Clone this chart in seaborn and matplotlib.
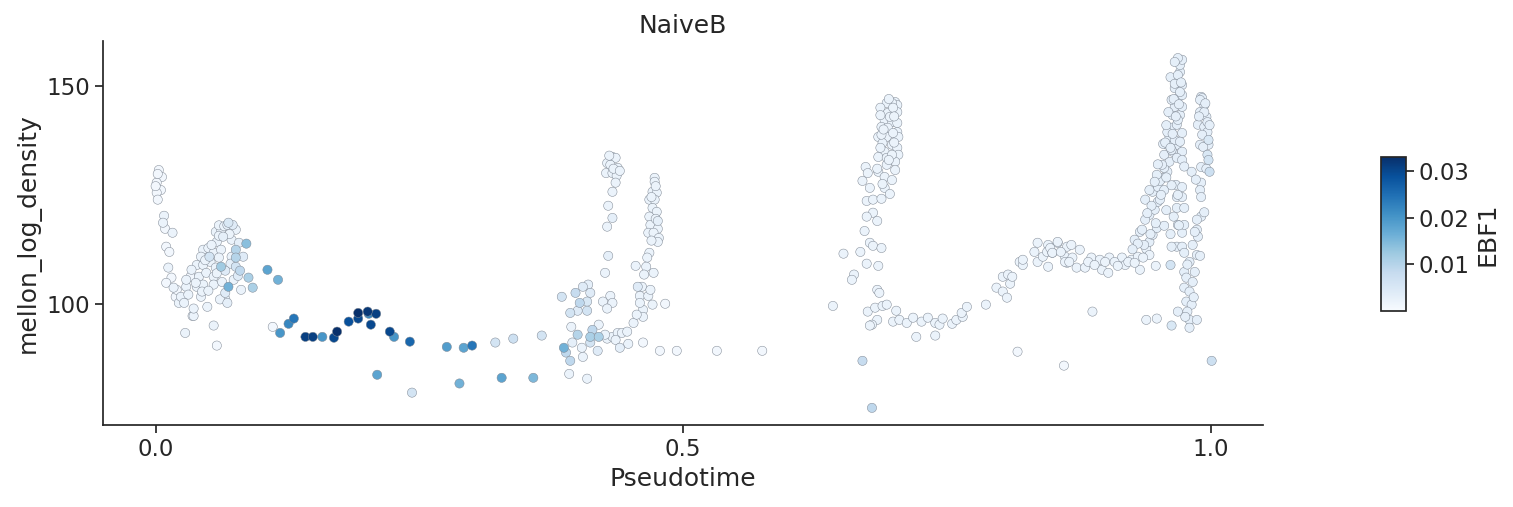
import numpy as np
import pandas as pd
import matplotlib
matplotlib.use("Agg")
import matplotlib.pyplot as plt
import seaborn as sns

# ---- data ----
# segment A: start of pseudotime
xa = [0.003,0.006,0.001,0.005,0.001,0.002,0.002,0.000,0.008,0.007,0.009,0.016,0.010,0.013,0.012,0.015,0.010,0.017,0.019,0.022,0.028,0.036,0.055,0.058,0.049]
ya = [130.7,129.1,127.8,126.1,125.5,123.9,129.8,127.0,120.2,118.6,117.2,116.3,113.1,111.9,108.3,106.0,104.8,103.7,101.6,100.2,93.3,97.2,95.0,90.4,99.3]
ca = [0.001,0.001,0.001,0.001,0.001,0.001,0.001,0.001,0.002,0.002,0.001,0.002,0.001,0.001,0.002,0.001,0.001,0.002,0.001,0.002,0.002,0.002,0.002,0.001,0.002]

# segment B: first bump
xb = [0.057,0.062,0.069,0.076,0.064,0.058,0.072,0.079,0.086,0.045,0.050,0.055,0.062,0.072,0.083,0.076,0.076,0.051,0.060,0.043,
      0.039,0.045,0.034,0.062,0.066,0.076,0.080,0.033,0.041,0.048,0.055,0.074,0.088,0.029,0.039,0.045,0.055,0.069,0.081,0.092,
      0.020,0.024,0.031,0.043,0.044,0.066,0.066,0.068,0.027,0.036,0.035,0.106,0.116,0.052,0.057,0.071,0.029,0.063,0.078,0.068,
      0.073,0.060]
yb = [116.5,117.0,118.6,117.0,115.4,114.2,114.7,114.0,113.8,112.4,112.8,111.7,112.4,110.8,110.8,112.4,110.6,110.8,110.6,110.8,
      108.9,108.9,107.8,108.5,107.6,108.5,107.6,106.2,106.2,107.1,106.2,105.5,106.0,103.9,103.9,104.4,104.4,103.9,103.2,103.7,
      103.2,101.6,102.1,101.6,102.8,102.5,101.1,100.2,100.2,98.9,97.2,107.8,105.5,109.6,108.3,109.2,105.5,105.0,106.4,118.1,
      118.1,115.6]
cb = [0.002,0.002,0.005,0.002,0.003,0.002,0.002,0.003,0.014,0.002,0.002,0.002,0.002,0.002,0.004,0.010,0.010,0.006,0.002,0.002,
      0.002,0.002,0.002,0.012,0.004,0.006,0.009,0.001,0.002,0.002,0.002,0.002,0.011,0.002,0.002,0.002,0.002,0.016,0.002,0.011,
      0.001,0.002,0.002,0.002,0.002,0.004,0.002,0.003,0.002,0.002,0.001,0.018,0.016,0.002,0.002,0.003,0.002,0.002,0.004,0.003,
      0.004,0.002]

# segment C: low trough with high EBF1
xc = [0.111,0.118,0.126,0.131,0.142,0.149,0.158,0.169,0.172,0.183,0.192,0.192,0.201,0.202,0.209,0.204,0.222,0.226,0.241,0.210,
      0.243,0.276,0.292,0.300,0.288,0.322,0.339,0.328,0.358,0.366]
yc = [94.7,93.3,95.4,96.6,92.4,92.4,92.4,92.2,93.6,95.9,97.9,96.6,98.2,97.7,97.7,95.2,93.6,92.4,91.3,83.7,
      79.6,90.1,89.9,90.4,81.7,91.1,92.0,83.0,83.0,92.7]
cc = [0.001,0.020,0.022,0.024,0.031,0.031,0.020,0.030,0.033,0.029,0.033,0.030,0.032,0.022,0.031,0.030,0.030,0.020,0.026,0.018,
      0.006,0.019,0.018,0.024,0.016,0.006,0.007,0.018,0.015,0.006]

# segment D: middle cluster with two spikes
xd = [0.385,0.398,0.405,0.410,0.412,0.402,0.409,0.393,0.400,0.409,0.424,0.431,0.433,0.428,0.394,0.400,0.414,0.420,0.412,0.420,
      0.412,0.419,0.387,0.395,0.404,0.405,0.389,0.393,0.392,0.409,0.428,0.433,0.438,0.442,0.447,0.453,0.440,0.448,0.462,0.478,
      0.494,0.532,0.575,0.426,0.436,
      0.433,0.436,0.428,0.431,0.438,0.427,0.433,0.437,0.436,0.433,0.429,0.433,0.428,0.429,0.426,
      0.473,0.473,0.471,0.475,0.468,0.473,0.471,0.475,0.468,0.476,0.469,0.476,0.467,0.472,0.477,0.476,0.468,0.466,0.455,0.465,
      0.463,0.472,0.483,0.457,0.461,0.459,0.467,0.471,0.462,0.459,0.462,0.456,0.469]
yd = [101.6,102.5,103.9,104.4,102.5,100.2,100.5,97.9,98.4,98.4,100.5,101.8,100.2,98.9,94.7,92.9,94.0,95.2,92.4,92.4,
      91.1,89.2,89.9,91.1,89.9,87.8,88.8,86.9,83.9,82.8,92.0,92.4,93.3,93.3,93.6,95.6,89.9,90.8,91.1,89.2,
      89.2,89.2,89.2,92.9,91.7,
      133.7,133.5,132.3,131.9,131.2,130.0,130.0,129.4,127.8,125.7,122.5,119.7,117.7,111.0,107.1,
      128.9,128.0,125.7,125.5,123.9,123.9,122.0,121.1,120.0,119.0,118.1,117.2,116.3,116.3,115.1,114.2,111.7,110.6,108.7,108.5,
      106.7,107.1,100.0,103.9,103.9,101.8,101.8,99.8,98.6,100.2,97.0,97.5,103.2]
cd = [0.006,0.008,0.004,0.003,0.004,0.009,0.005,0.006,0.004,0.006,0.002,0.002,0.002,0.002,0.002,0.010,0.009,0.002,0.011,0.011,
      0.006,0.004,0.016,0.003,0.002,0.002,0.009,0.009,0.002,0.002,0.002,0.002,0.002,0.002,0.002,0.002,0.003,0.002,0.001,0.001,
      0.001,0.001,0.001,0.002,0.002,
      0.002,0.002,0.002,0.002,0.002,0.002,0.002,0.002,0.002,0.002,0.002,0.003,0.002,0.003,0.002,
      0.002,0.002,0.002,0.002,0.002,0.002,0.002,0.002,0.002,0.003,0.002,0.002,0.002,0.002,0.002,0.002,0.002,0.002,0.002,0.002,
      0.002,0.002,0.001,0.004,0.002,0.002,0.002,0.002,0.002,0.002,0.002,0.002,0.002]

# segment E: spike near 0.7 and the U-shaped valley
xe = [0.701,0.703,0.698,0.693,0.687,0.694,0.703,0.691,0.698,0.703,0.688,0.694,0.703,0.685,0.693,0.704,0.689,0.698,0.703,0.691,
      0.704,0.685,0.693,0.701,0.693,0.673,0.685,0.675,0.691,0.698,0.670,0.677,0.691,0.696,0.674,0.680,0.688,0.680,0.674,0.684,
      0.672,0.677,0.680,0.688,0.668,0.652,0.674,0.685,0.662,0.660,0.684,0.686,0.642,0.675,0.682,0.689,0.693,0.684,0.679,0.677,
      0.702,0.699,0.705,0.712,0.718,0.726,0.732,0.739,0.743,0.746,0.755,0.759,0.765,0.764,0.769,0.787,0.721,0.739,0.670,0.679,
      0.817,0.861,0.699,0.696,0.687,0.699,0.688,0.698,0.687,0.701,
      0.797,0.803,0.807,0.810,0.803,0.808,0.812,0.819,0.822,0.822,0.833,0.836,0.836,0.841,0.846,0.845,0.850,0.855,0.846,0.862,
      0.864,0.864]
ye = [146.3,145.6,146.1,146.1,145.0,143.8,144.0,142.2,141.7,141.5,140.6,140.4,139.4,138.3,138.3,138.3,136.9,136.5,135.8,134.9,
      134.2,133.7,133.5,132.6,131.9,131.4,130.3,130.0,129.1,128.4,128.2,126.6,126.6,125.2,123.6,123.9,124.1,120.9,120.0,119.0,
      116.7,114.0,113.3,112.8,111.9,111.5,109.2,108.7,106.7,105.5,103.2,102.5,99.5,98.2,99.1,99.5,99.8,96.3,95.2,95.0,
      98.4,95.9,96.3,95.6,96.8,95.9,96.8,95.6,95.2,96.6,95.4,96.3,97.0,97.9,99.3,99.8,92.4,92.7,86.9,76.1,
      89.0,85.8,145.0,142.9,143.3,139.2,138.8,134.2,135.8,130.7,
      103.7,102.8,101.4,104.6,106.2,106.7,106.2,109.6,108.9,110.1,111.9,114.0,109.6,110.8,113.5,111.9,111.7,114.0,108.5,110.8,
      109.4,113.1]
ce = [0.002]*78 + [0.008,0.009] + [0.001,0.001] + [0.002]*8 + [0.002]*22

# segment F: plateau and the two late spikes
xf = [0.848,0.855,0.850,0.862,0.868,0.869,0.876,0.873,0.881,0.887,0.895,0.897,0.903,0.904,0.916,0.919,0.925,0.933,0.931,0.939,
      0.942,0.948,0.962,0.884,0.890,0.900,0.909,0.912,0.922,0.928,0.936,0.858,0.866,
      0.942,0.945,0.949,0.956,0.942,0.947,0.950,0.945,0.950,0.955,0.959,0.956,0.952,0.961,0.956,0.964,0.959,0.955,0.968,0.973,
      0.968,0.973,0.961,0.963,0.968,0.973,0.964,0.971,0.966,0.973,0.969,0.973,0.966,0.973,0.968,0.971,0.971,0.973,0.969,0.967,
      0.973,0.968,0.966,0.971,0.963,0.969,0.959,0.966,0.963,0.954,0.949,0.942,0.938,0.938,0.933,0.928,0.937,0.952,0.956,
      0.991,0.992,0.994,0.990,0.996,0.988,0.994,0.997,0.992,0.990,0.998,0.998,0.999,0.991,0.982,0.991,0.990,0.991,0.991,0.987,
      0.987,0.988,0.983,0.987,0.980,0.985,0.975,0.977,0.983,0.975,0.980,0.977,0.982,0.969,0.978,0.980,0.987,0.980,0.969,0.973,
      0.975,0.968,0.973,0.963,0.975,0.973,0.968,0.975,0.969,0.998,0.997,0.990,0.994,0.997,
      0.888,0.939,0.949,0.963,1.001]
yf = [112.8,114.2,111.7,109.6,113.5,110.6,112.4,108.3,108.3,110.6,110.1,107.8,107.1,110.6,110.6,108.9,110.1,107.8,110.8,112.6,
      111.2,108.7,108.9,109.6,108.9,109.6,109.6,108.7,109.6,109.4,110.6,111.9,109.6,
      114.2,115.8,117.4,117.9,120.4,121.6,123.4,125.7,126.8,128.9,130.3,131.2,128.2,132.6,134.2,134.9,136.5,136.7,136.5,134.9,
      133.5,133.0,138.3,140.4,141.1,139.2,143.3,143.3,145.2,145.2,147.2,147.9,149.5,150.2,151.8,153.2,154.8,156.0,156.4,127.3,
      126.8,124.5,155.5,148.6,146.8,142.2,139.4,137.6,135.3,131.9,129.6,126.1,123.9,119.3,116.5,114.7,113.5,123.9,126.1,
      147.5,147.2,145.6,144.0,142.9,141.1,140.6,139.4,138.8,136.5,136.5,133.0,130.3,131.4,130.3,127.8,126.1,124.5,120.0,119.3,
      117.0,115.4,113.5,111.2,109.6,107.3,107.3,106.0,105.0,103.7,102.8,100.5,99.8,98.2,98.2,96.3,96.3,94.5,118.1,116.3,
      118.1,113.1,113.1,113.1,111.7,124.5,122.0,122.0,125.0,137.6,134.2,146.8,144.0,141.7,
      98.2,96.3,96.6,95.0,86.9]
cf = ([0.002]*22 + [0.006] + [0.002]*10 +
      [0.003]*59 +
      [0.003]*11 + [0.006,0.007] + [0.003]*36 + [0.005,0.005,0.003,0.003,0.003] +
      [0.002,0.002,0.002,0.005,0.007])

# segment G: extra cells filling the dense spikes
xg = [0.962,0.966,0.969,0.972,0.965,0.970,0.960,0.967,0.958,0.964,0.971,0.957,0.962,0.975,0.950,0.958,0.947,0.963,0.953,0.944,
      0.958,0.940,0.948,0.935,0.943,0.931,0.926,0.965,0.970,0.962,
      0.995,0.989,0.999,0.993,0.996,0.986,0.994,0.985,0.990,0.978,0.984,0.976,
      0.695,0.700,0.690,0.700,0.695,0.684,0.689,
      0.430,0.434,0.440,
      0.474,0.470,0.474,0.470,
      0.060,0.065,0.070,0.053,0.047,0.058,0.038,0.050,0.061]
yg = [152.0,150.5,152.5,150.8,147.0,145.8,144.0,143.0,141.0,139.0,137.2,137.0,135.8,131.5,132.0,129.0,128.0,127.2,125.0,122.5,
      121.5,120.8,118.5,117.0,116.0,113.8,112.5,120.0,118.0,116.0,
      146.0,143.0,141.0,136.0,131.0,128.5,121.0,116.5,111.0,109.0,101.5,97.0,
      147.0,143.0,140.0,137.0,133.0,131.0,127.5,
      134.0,131.0,130.5,
      127.0,124.5,119.5,114.5,
      118.0,117.8,116.0,113.5,110.0,107.0,104.8,103.0,101.0]
cg = [0.003]*30 + [0.003]*12 + [0.002]*7 + [0.002]*3 + [0.002]*4 + [0.002]*9

# ---- assemble ----
df = pd.DataFrame({
    "Pseudotime": xa + xb + xc + xd + xe + xf + xg,
    "mellon_log_density": ya + yb + yc + yd + ye + yf + yg,
    "EBF1": ca + cb + cc + cd + ce + cf + cg,
})
df = df.sort_values("EBF1", kind="stable")

sns.set_theme(style="ticks", font_scale=1.5)
plt.rcParams["font.family"] = ["DejaVu Sans"]

fig = plt.figure(figsize=(15.13, 5.07), dpi=100)
ax = fig.add_axes([0.068, 0.162, 0.767, 0.757])
vmin, vmax = 0.0, 0.033
sns.scatterplot(data=df, x="Pseudotime", y="mellon_log_density", hue="EBF1",
                palette="Blues", hue_norm=(vmin, vmax), legend=False,
                s=44, edgecolor="#7f8894", linewidth=0.35, ax=ax)
ax.set_xlim(-0.05, 1.05)
ax.set_ylim(72.2, 160.3)
ax.set_xticks([0.0, 0.5, 1.0])
ax.set_yticks([100, 150])
ax.set_title("NaiveB")
sns.despine(ax=ax)

cax = fig.add_axes([0.913, 0.387, 0.016, 0.303])
sm = plt.cm.ScalarMappable(cmap="Blues", norm=plt.Normalize(vmin, vmax))
cbar = fig.colorbar(sm, cax=cax)
cbar.set_ticks([0.01, 0.02, 0.03])
cbar.set_label("EBF1")

fig.savefig("out.png", dpi=100)
